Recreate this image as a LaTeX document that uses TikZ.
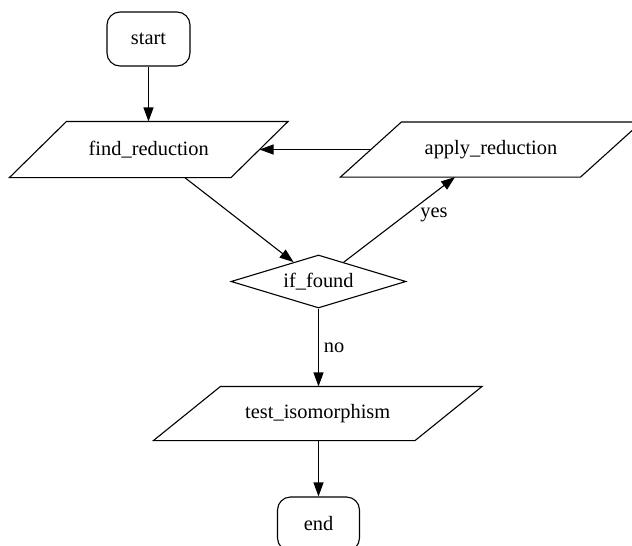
\documentclass[tikz,border=0pt]{standalone}
\usepackage{fontspec}
\setmainfont{Liberation Serif}
\usetikzlibrary{arrows.meta,shapes.geometric,calc}
\newcommand\parlg[2]{\draw ($(#1.south west)+(-#2,0)$) -- ($(#1.north west)+(#2,0)$) -- ($(#1.north east)+(#2,0)$) -- ($(#1.south east)+(-#2,0)$) -- cycle;}
\begin{document}
\begin{tikzpicture}[x=1pt,y=-1pt,
  font=\fontsize{20.4}{24}\selectfont,
  line width=1.1pt,
  term/.style={draw, rounded corners=13pt, minimum width=83pt, minimum height=54pt, inner sep=0pt},
  io/.style={inner sep=0pt},
  dec/.style={draw, diamond, shape aspect=3.3, minimum width=175pt, minimum height=53pt, inner sep=0pt},
  flow/.style={-{Triangle[length=14pt,width=10pt]}},
  lbl/.style={inner sep=0pt}
]
\useasboundingbox (0,0) rectangle (632,546);
\clip (0,0) rectangle (632,546);
\node[term] (start) at (148.5,39) {start};
\node[io, minimum width=220.5pt, minimum height=55pt] (find) at (148.75,149.5) {find\_reduction};
\parlg{find}{28.5}
\node[io, minimum width=239pt, minimum height=54pt] (apply) at (491,149.5) {apply\_reduction};
\parlg{apply}{30.5}
\node[dec] (iffound) at (318.5,281.5) {if\_found};
\node[io, minimum width=260.5pt, minimum height=53pt] (test) at (317.75,413.5) {test\_isomorphism};
\parlg{test}{33.5}
\node[term, minimum width=82pt] (end) at (318.5,524) {end};
\node[lbl] (yes) at (434,215) {yes};
\node[lbl] (no) at (334,348) {no};
\draw[flow] (start.south) -- (start.south |- find.north);
\draw[flow] (find) -- (iffound);
\draw[flow] (apply.west) -- (find.east |- apply.west);
\draw[flow] (iffound) -- (apply);
\draw[flow] (iffound.south) -- (iffound.south |- test.north);
\draw[flow] (test.south -| end.north) -- (end.north);
\end{tikzpicture}
\end{document}
